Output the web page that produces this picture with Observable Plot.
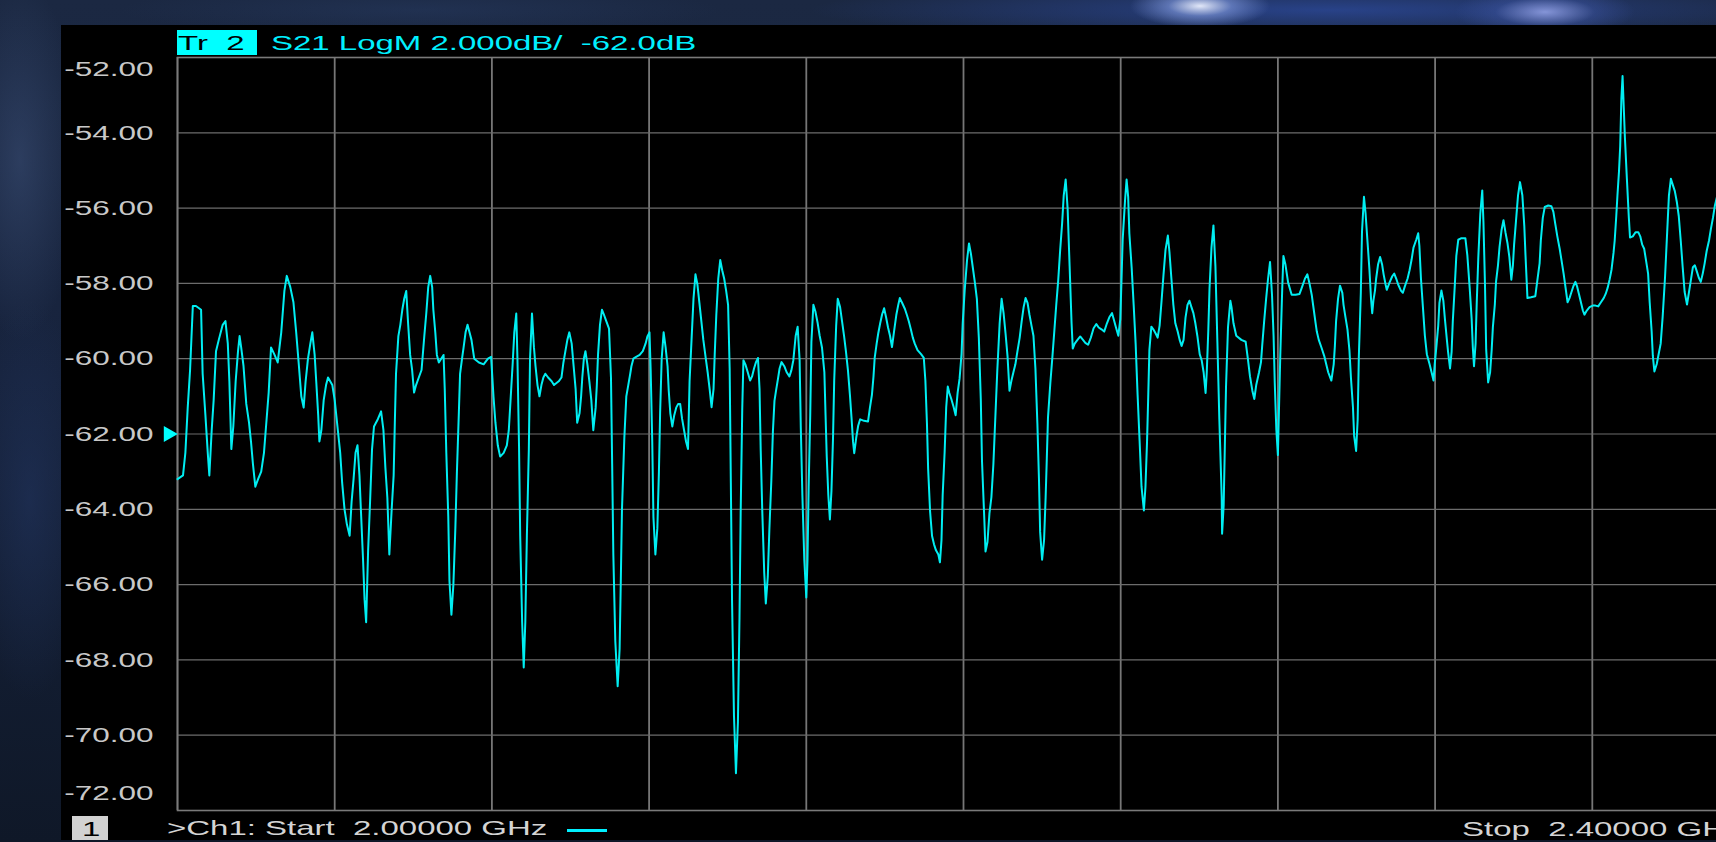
<!DOCTYPE html>
<html>
<head>
<meta charset="utf-8">
<script src="https://cdn.jsdelivr.net/npm/d3@7"></script>
<script src="https://cdn.jsdelivr.net/npm/@observablehq/plot@0.6"></script>
<style>
  html, body { margin: 0; padding: 0; width: 1716px; height: 842px; overflow: hidden; }
  body {
    position: relative;
    background-color: #131e34;
    background-image:
      radial-gradient(ellipse 70px 22px at 1200px 6px, rgba(235,240,255,0.95), rgba(140,165,235,0.55) 45%, rgba(60,90,170,0) 100%),
      radial-gradient(ellipse 90px 26px at 1545px 12px, rgba(150,165,235,0.85), rgba(70,95,180,0.35) 55%, rgba(40,60,130,0) 100%),
      radial-gradient(ellipse 520px 30px at 1330px 10px, rgba(45,75,160,0.75), rgba(30,50,110,0) 100%),
      radial-gradient(ellipse 300px 26px at 420px 10px, rgba(40,60,100,0.45), rgba(30,45,80,0) 100%),
      radial-gradient(ellipse 60px 180px at 20px 160px, rgba(60,80,120,0.55), rgba(40,55,90,0) 100%),
      radial-gradient(ellipse 60px 200px at 30px 500px, rgba(35,55,100,0.5), rgba(30,45,80,0) 100%),
      linear-gradient(to bottom, #1b2842 0%, #17233d 45%, #0f1828 100%);
    font-family: "Liberation Sans", Arial, sans-serif;
  }
  #panel { position: absolute; left: 61px; top: 25px; width: 1655px; height: 815px; background: #000; overflow: hidden; }
  .t { position: absolute; font-size: 21px; line-height: 21px; white-space: pre; transform: scaleX(1.57); transform-origin: 0 0; }
  #chart { position: absolute; left: 0; top: 0; z-index: 2; pointer-events: none; }
</style>
</head>
<body>
<div id="panel">
  <div style="position:absolute;left:116px;top:5px;width:80px;height:25px;background:#00ffff;"></div>
  <div class="t" style="left:117px;top:7px;color:#000;">Tr  2</div>
  <div class="t" style="left:210px;top:7px;color:#00f0ff;">S21 LogM 2.000dB/  -62.0dB</div>
  <div style="position:absolute;left:11px;top:791px;width:36px;height:25px;background:#d2d2d2;"></div>
  <div class="t" style="left:21px;top:793px;color:#000;">1</div>
  <div class="t" style="left:106px;top:792px;color:#d4d4d4;">&gt;Ch1: Start  2.00000 GHz</div>
  <div style="position:absolute;left:506px;top:804px;width:40px;height:2.5px;background:#00f0ff;"></div>
  <div class="t" style="left:1401px;top:793px;color:#d4d4d4;">Stop  2.40000 GHz</div>
</div>
<div id="chart"></div>
<script>
// Sweep: 2.00000 GHz to 2.40000 GHz, S21 LogM, 2 dB/div, ref -62 dB
const startMHz = 2000;
const stopMHz = 2400;
const freqGrid = [2000, 2040, 2080, 2120, 2160, 2200, 2240, 2280, 2320, 2360, 2400];
const dbTicks = [-52, -54, -56, -58, -60, -62, -64, -66, -68, -70, -72];
const refLevel = -62;

// [frequency MHz, S21 dB]
const s21Trace = [
[2000.0,-63.2],[2001.4,-63.1],[2002.0,-62.5],[2002.6,-61.3],[2003.2,-60.3],[2003.9,-58.6],[2004.7,-58.6],[2006.0,-58.7],[2006.4,-60.4],[2007.1,-61.5],
[2007.7,-62.5],[2008.1,-63.1],[2008.7,-61.9],[2009.2,-61.1],[2009.8,-59.8],[2010.5,-59.5],[2011.5,-59.1],[2012.2,-59.0],[2012.8,-59.6],[2013.2,-60.6],
[2013.7,-62.4],[2014.2,-61.8],[2014.8,-60.6],[2015.4,-59.8],[2015.8,-59.4],[2016.2,-59.7],[2016.8,-60.2],[2017.5,-61.2],[2018.2,-61.7],[2018.7,-62.2],
[2019.2,-62.8],[2019.8,-63.4],[2020.5,-63.2],[2021.3,-63.0],[2022.0,-62.5],[2022.6,-61.7],[2023.2,-60.9],[2023.8,-59.7],[2024.7,-59.9],[2025.5,-60.1],
[2026.4,-59.3],[2027.2,-58.2],[2027.8,-57.8],[2028.7,-58.1],[2029.5,-58.5],[2030.2,-59.3],[2030.9,-60.2],[2031.5,-61.0],[2032.1,-61.3],[2032.6,-60.6],
[2033.2,-60.0],[2033.8,-59.6],[2034.3,-59.3],[2034.9,-59.9],[2035.3,-60.6],[2035.8,-61.5],[2036.1,-62.2],[2036.6,-61.9],[2037.2,-61.1],[2037.8,-60.7],
[2038.3,-60.5],[2039.4,-60.7],[2040.0,-61.1],[2040.8,-61.9],[2041.4,-62.5],[2041.9,-63.3],[2042.5,-64.0],[2043.1,-64.4],[2043.8,-64.7],[2044.3,-63.8],
[2044.8,-63.2],[2045.3,-62.5],[2045.8,-62.3],[2046.3,-63.1],[2046.7,-64.1],[2047.2,-65.3],[2047.6,-66.4],[2048.0,-67.0],[2048.5,-65.1],[2049.0,-63.8],
[2049.5,-62.4],[2050.0,-61.8],[2051.0,-61.6],[2051.8,-61.4],[2052.4,-61.9],[2052.9,-62.9],[2053.4,-63.7],[2053.9,-65.2],[2054.5,-64.0],[2055.0,-63.1],
[2055.3,-61.7],[2055.6,-60.4],[2056.2,-59.4],[2056.7,-59.1],[2057.2,-58.7],[2057.7,-58.4],[2058.2,-58.2],[2058.7,-59.1],[2059.2,-59.9],[2059.7,-60.3],
[2060.2,-60.9],[2060.7,-60.7],[2061.4,-60.5],[2062.1,-60.3],[2062.8,-59.4],[2063.3,-58.8],[2063.8,-58.1],[2064.3,-57.8],
[2064.8,-58.1],[2065.1,-58.7],[2065.6,-59.3],[2066.0,-59.9],[2066.5,-60.1],[2067.1,-60.0],[2067.7,-59.9],[2068.0,-60.8],[2068.4,-62.5],[2068.9,-64.2],
[2069.2,-65.9],[2069.7,-66.8],[2070.2,-66.0],[2070.7,-64.5],[2071.1,-63.0],[2071.6,-61.4],[2071.9,-60.4],[2072.4,-60.0],[2072.8,-59.7],[2073.3,-59.3],
[2073.8,-59.1],[2074.3,-59.3],[2074.8,-59.5],[2075.5,-60.0],[2076.7,-60.1],[2077.9,-60.15],[2079.0,-60.0],[2079.8,-59.95],[2080.4,-61.0],[2080.9,-61.7],
[2081.5,-62.3],[2082.1,-62.6],[2083.0,-62.5],[2083.8,-62.3],[2084.3,-61.9],[2084.8,-61.0],[2085.3,-60.1],[2085.7,-59.3],[2086.2,-58.8],[2086.5,-60.0],
[2086.9,-62.3],[2087.2,-64.7],[2087.7,-67.0],[2088.1,-68.2],[2088.5,-67.0],[2088.9,-64.7],[2089.4,-62.4],[2089.7,-60.0],[2090.2,-58.8],[2090.7,-59.7],
[2091.1,-60.2],[2091.6,-60.7],[2092.1,-61.0],[2092.6,-60.7],[2093.1,-60.5],[2093.6,-60.4],[2094.3,-60.5],[2095.2,-60.6],[2095.8,-60.7],[2097.0,-60.6],
[2097.7,-60.5],[2098.2,-60.1],[2098.7,-59.8],[2099.2,-59.5],[2099.7,-59.3],[2100.3,-59.6],[2100.8,-60.2],[2101.3,-60.8],[2101.7,-61.7],[2102.3,-61.45],
[2102.7,-61.0],[2103.0,-60.5],[2103.4,-60.0],[2103.8,-59.8],[2104.3,-60.15],[2104.8,-60.6],[2105.3,-61.1],[2105.8,-61.9],[2106.4,-61.3],[2106.7,-60.7],
[2107.0,-59.9],[2107.5,-59.1],[2108.0,-58.7],[2108.4,-58.8],[2109.1,-59.0],[2109.8,-59.2],[2110.3,-60.5],[2110.6,-62.8],[2110.9,-65.2],[2111.4,-67.5],
[2112.0,-68.7],[2112.5,-67.7],[2112.8,-65.9],[2113.1,-64.0],[2113.7,-62.1],[2114.2,-61.0],[2114.7,-60.7],[2115.2,-60.4],[2115.5,-60.2],[2116.0,-60.0],
[2116.7,-59.95],[2117.6,-59.9],[2118.4,-59.8],[2119.1,-59.6],[2119.6,-59.4],[2120.1,-59.3],[2120.4,-60.3],[2120.8,-62.2],[2121.1,-64.2],[2121.6,-65.2],
[2122.1,-64.5],[2122.5,-63.0],[2122.8,-61.45],[2123.2,-60.0],[2123.7,-59.3],[2124.2,-59.7],[2124.7,-60.2],[2125.0,-60.85],[2125.4,-61.45],[2125.9,-61.8],
[2126.4,-61.5],[2126.9,-61.3],[2127.4,-61.2],[2127.9,-61.2],[2128.4,-61.6],[2128.9,-61.9],[2129.4,-62.2],[2129.9,-62.4],[2130.3,-60.6],[2130.8,-59.5],
[2131.3,-58.4],
[2131.8,-57.76],[2132.3,-58.03],[2132.8,-58.52],[2133.3,-59.01],[2133.8,-59.50],[2134.4,-59.98],[2134.9,-60.36],[2135.4,-60.80],[2135.9,-61.29],[2136.4,-60.80],
[2136.7,-59.88],[2137.1,-58.84],[2137.6,-57.87],[2138.1,-57.38],[2138.6,-57.65],[2139.1,-57.87],[2139.6,-58.19],[2140.1,-58.57],[2140.5,-60.26],[2140.8,-63.30],
[2141.1,-66.39],[2141.6,-69.49],[2142.1,-71.01],[2142.6,-69.65],[2143.0,-66.88],[2143.3,-64.11],[2143.7,-61.34],[2144.0,-60.04],[2144.5,-60.15],[2145.1,-60.36],
[2145.7,-60.58],[2146.2,-60.47],[2146.7,-60.26],[2147.2,-60.09],[2147.7,-59.98],[2148.1,-60.80],[2148.4,-62.43],[2148.8,-64.06],[2149.3,-65.69],[2149.7,-66.50],
[2150.2,-65.79],[2150.6,-64.55],[2151.1,-63.24],[2151.5,-61.94],[2151.9,-61.12],[2152.3,-60.85],[2152.8,-60.53],[2153.2,-60.26],[2153.7,-60.09],[2154.4,-60.20],
[2155.0,-60.36],[2155.7,-60.47],[2156.2,-60.31],[2156.7,-60.04],[2157.3,-59.39],[2157.8,-59.15],[2158.3,-60.04],[2158.6,-61.83],[2159.0,-63.62],[2159.5,-65.36],
[2160.0,-66.34],[2160.3,-65.36],[2160.6,-63.40],[2161.0,-61.50],[2161.3,-59.55],[2161.8,-58.57],[2162.3,-58.74],[2162.9,-59.06],[2163.4,-59.39],[2164.0,-59.71],
[2164.6,-60.36],[2164.9,-61.50],[2165.2,-62.59],[2165.6,-63.62],[2166.0,-64.27],[2166.4,-63.51],[2166.8,-62.10],[2167.1,-60.58],[2167.6,-59.12],[2168.0,-58.41],
[2168.6,-58.63],[2169.1,-59.01],[2169.6,-59.39],[2170.1,-59.82],[2170.6,-60.31],[2171.1,-60.96],[2171.5,-61.56],[2171.9,-62.21],[2172.2,-62.51],[2172.7,-62.10],
[2173.2,-61.78],[2173.7,-61.61],[2174.7,-61.65],[2175.7,-61.67],[2176.2,-61.29],[2176.7,-60.96],[2177.1,-60.47],[2177.4,-59.98],[2177.9,-59.60],[2178.3,-59.33],
[2178.8,-59.06],[2179.3,-58.82],[2179.8,-58.66],[2180.3,-58.90],[2180.8,-59.17],[2181.3,-59.39],[2181.8,-59.69],[2182.4,-59.22],[2182.9,-58.84],[2183.4,-58.57],
[2183.8,-58.39],[2184.4,-58.52],[2185.1,-58.68],[2185.6,-58.84],[2186.1,-59.01],[2186.6,-59.22],[2187.1,-59.44],[2187.6,-59.60],[2188.3,-59.77],[2189.2,-59.88],
[2189.9,-59.98],[2190.3,-60.58],[2190.7,-61.72],[2191.0,-62.92],[2191.5,-64.06],[2192.0,-64.71],[2192.5,-64.93],[2193.0,-65.09],[2193.6,-65.20],[2194.0,-65.41],
[2194.4,-64.82],[2194.7,-63.62],[2195.2,-62.48],[2195.6,-61.29],[2196.0,-60.74],[2196.4,-60.91],
[2196.9,-61.07],[2197.5,-61.29],[2198.0,-61.50],[2198.5,-60.91],[2199.0,-60.53],[2199.5,-59.88],[2199.8,-59.06],[2200.3,-58.19],[2200.9,-57.38],[2201.4,-56.94],
[2201.9,-57.22],[2202.4,-57.60],[2202.9,-57.98],[2203.4,-58.41],[2203.9,-59.44],[2204.4,-61.07],[2204.7,-62.70],[2205.3,-64.27],[2205.6,-65.12],[2206.1,-64.87],
[2206.6,-64.11],[2207.1,-63.68],[2207.6,-62.81],[2208.1,-61.56],[2208.6,-60.31],[2209.2,-59.06],[2209.7,-58.41],[2210.2,-58.79],[2210.7,-59.33],[2211.2,-59.93],
[2211.7,-60.85],[2212.2,-60.58],[2212.7,-60.36],[2213.2,-60.15],[2213.7,-59.82],[2214.3,-59.44],[2214.8,-59.01],[2215.3,-58.63],[2215.8,-58.39],[2216.3,-58.52],
[2216.8,-58.84],[2217.3,-59.12],[2217.8,-59.39],[2218.3,-60.26],[2218.8,-61.72],[2219.2,-63.19],[2219.5,-64.60],[2220.0,-65.34],[2220.5,-64.82],[2220.9,-63.68],
[2221.2,-62.64],[2221.5,-61.56],[2222.1,-60.64],[2222.6,-59.98],[2223.1,-59.28],[2223.6,-58.57],[2224.1,-57.92],[2224.6,-57.11],[2225.1,-56.40],[2225.5,-55.67],
[2226.0,-55.24],[2226.5,-56.02],[2227.0,-57.54],[2227.5,-59.06],[2227.8,-59.73],[2228.3,-59.60],[2229.0,-59.50],[2229.7,-59.41],[2230.4,-59.50],[2231.0,-59.58],
[2231.7,-59.63],[2232.4,-59.44],[2233.1,-59.19],[2233.8,-59.08],[2234.4,-59.17],[2235.1,-59.22],[2235.8,-59.28],[2236.5,-59.06],[2237.1,-58.90],[2237.8,-58.79],
[2238.3,-58.98],[2238.8,-59.17],[2239.4,-59.39],[2239.9,-58.95],[2240.2,-57.92],[2240.5,-56.84],[2241.1,-55.80],[2241.5,-55.24],[2241.9,-55.70],[2242.2,-56.67],
[2242.8,-57.60],[2243.3,-58.57],[2243.8,-59.60],[2244.3,-60.96],[2244.8,-62.16],[2245.3,-63.40],[2245.9,-64.03],[2246.3,-63.40],[2246.7,-62.21],[2247.0,-61.02],
[2247.3,-59.77],[2247.8,-59.15],[2248.3,-59.22],[2248.9,-59.33],[2249.4,-59.44],[2249.9,-59.12],[2250.4,-58.46],[2250.9,-57.76],[2251.4,-57.11],[2252.0,-56.73],
[2252.4,-57.16],[2252.9,-57.87],[2253.4,-58.57],[2253.9,-59.06],[2254.5,-59.28],[2255.0,-59.50],[2255.5,-59.66],[2256.0,-59.50],[2256.5,-58.90],[2257.0,-58.57],
[2257.5,-58.46],[2258.0,-58.63],[2258.5,-58.79],[2259.0,-59.06],[2259.5,-59.39],[2260.1,-59.88],[2260.6,-60.04],[2261.1,-60.36],[2261.6,-60.91],[2261.9,-60.36],
[2262.3,-59.22],[2262.6,-58.14],[2263.1,-57.05],[2263.6,-56.46],
[2264.1,-57.54],[2264.6,-59.55],[2265.1,-61.61],[2265.7,-63.68],[2265.8,-64.65],[2266.2,-63.89],[2266.5,-62.32],[2266.8,-60.74],[2267.3,-59.17],[2267.9,-58.46],
[2268.2,-58.63],[2268.7,-59.06],[2269.4,-59.39],[2270.7,-59.50],[2271.8,-59.55],[2272.4,-60.04],[2272.9,-60.47],[2273.5,-60.85],[2274.0,-61.07],[2274.5,-60.69],
[2275.2,-60.36],[2275.7,-60.09],[2276.0,-59.66],[2276.5,-59.01],[2277.0,-58.41],[2277.5,-57.87],[2278.0,-57.43],[2278.5,-58.30],[2278.9,-59.39],[2279.2,-60.64],
[2279.6,-61.88],[2280.0,-62.56],[2280.2,-61.67],[2280.6,-59.93],[2281.1,-58.14],[2281.4,-57.27],[2281.9,-57.49],[2282.6,-57.98],[2283.5,-58.30],[2284.5,-58.30],
[2285.5,-58.28],[2286.2,-58.08],[2286.9,-57.87],[2287.5,-57.76],[2288.0,-57.98],[2288.6,-58.30],[2289.1,-58.68],[2289.6,-59.06],[2289.9,-59.28],[2290.4,-59.50],
[2291.1,-59.71],[2291.8,-59.93],[2292.3,-60.15],[2292.8,-60.36],[2293.6,-60.58],[2294.2,-60.15],[2294.5,-59.66],[2294.8,-59.01],[2295.3,-58.41],[2295.8,-58.06],
[2296.4,-58.25],[2296.7,-58.57],[2297.2,-58.90],[2297.7,-59.22],[2298.2,-59.77],[2298.6,-60.53],[2299.1,-61.29],[2299.4,-62.05],[2299.9,-62.45],[2300.3,-61.61],
[2300.6,-59.93],[2301.1,-58.25],[2301.4,-56.62],[2301.9,-55.70],[2302.3,-56.13],[2302.8,-56.89],[2303.3,-57.65],[2303.7,-58.41],[2304.0,-58.79],[2304.3,-58.46],
[2304.7,-58.19],[2305.0,-57.87],[2305.5,-57.49],[2306.0,-57.30],[2306.5,-57.49],[2306.9,-57.76],[2307.4,-58.03],[2307.7,-58.17],[2308.4,-57.98],[2309.1,-57.81],
[2309.6,-57.74],[2310.1,-57.87],[2310.6,-58.03],[2311.3,-58.19],[2311.8,-58.25],[2312.3,-58.08],[2313.0,-57.87],[2313.5,-57.65],[2314.0,-57.38],[2314.5,-57.05],
[2315.2,-56.84],[2315.7,-56.67],[2316.0,-57.00],[2316.4,-57.87],[2316.9,-58.63],[2317.4,-59.39],[2317.9,-59.88],[2318.6,-60.15],[2319.1,-60.36],[2319.6,-60.58],
[2319.9,-60.15],[2320.3,-59.71],[2320.8,-59.12],[2321.1,-58.52],[2321.6,-58.19],[2322.1,-58.46],[2322.5,-58.95],[2323.0,-59.50],[2323.3,-59.82],[2323.8,-60.26],
[2324.2,-59.82],[2324.5,-59.01],[2325.0,-58.08],[2325.4,-57.27],[2325.9,-56.84],[2326.7,-56.80],[2327.7,-56.80],
[2328.2,-57.25],[2328.8,-58.12],[2329.3,-58.94],[2329.6,-59.70],[2329.9,-60.20],[2330.3,-59.60],[2330.6,-58.50],[2331.0,-57.30],[2331.5,-56.15],[2332.0,-55.53],
[2332.3,-56.37],[2332.7,-58.07],[2333.0,-59.76],[2333.5,-60.63],[2334.0,-60.36],[2334.4,-59.76],[2334.7,-59.16],[2335.2,-58.56],[2335.5,-57.96],[2336.0,-57.52],
[2336.4,-57.03],[2336.9,-56.59],[2337.4,-56.32],[2337.9,-56.64],[2338.4,-56.92],[2338.9,-57.30],[2339.4,-57.90],[2339.8,-57.52],[2340.1,-56.97],[2340.6,-56.32],
[2341.1,-55.66],[2341.6,-55.31],[2342.2,-55.66],[2342.7,-56.48],[2343.0,-57.25],[2343.5,-58.39],[2344.4,-58.37],[2345.5,-58.34],[2346.1,-57.85],[2346.6,-57.46],
[2346.9,-56.86],[2347.4,-56.26],[2347.9,-55.97],[2348.8,-55.93],[2349.6,-55.95],[2350.1,-56.10],[2350.6,-56.43],[2351.1,-56.75],[2351.7,-57.08],[2352.2,-57.41],
[2352.7,-57.74],[2353.2,-58.12],[2353.7,-58.50],[2354.2,-58.39],[2354.7,-58.23],[2355.2,-58.07],[2355.7,-57.96],[2356.1,-58.07],[2356.6,-58.28],[2357.1,-58.50],
[2357.6,-58.72],[2358.0,-58.83],[2358.6,-58.72],[2359.3,-58.63],[2360.1,-58.59],[2360.8,-58.59],[2361.5,-58.61],[2362.2,-58.50],[2362.9,-58.39],[2363.4,-58.28],
[2363.9,-58.12],[2364.4,-57.90],[2364.9,-57.63],[2365.4,-57.19],[2365.7,-56.86],[2366.1,-56.21],[2366.4,-55.66],[2366.8,-55.01],[2367.1,-54.35],[2367.4,-53.09],
[2367.7,-52.49],[2367.9,-53.04],[2368.3,-54.13],[2368.8,-55.22],[2369.3,-56.26],[2369.6,-56.78],[2370.3,-56.75],[2371.0,-56.64],[2371.7,-56.64],[2372.2,-56.75],
[2372.7,-56.97],[2373.2,-57.08],[2373.7,-57.41],[2374.2,-57.74],[2374.6,-58.50],[2375.1,-59.27],[2375.4,-59.92],[2375.8,-60.34],[2376.4,-60.14],[2376.9,-59.87],
[2377.4,-59.60],[2377.9,-58.89],[2378.5,-57.85],[2379.0,-56.75],[2379.5,-55.66],[2380.0,-55.22],[2380.5,-55.39],[2381.0,-55.55],[2381.5,-55.83],[2382.0,-56.21],
[2382.5,-56.86],[2383.0,-57.57],[2383.5,-58.23],[2384.1,-58.56],[2384.6,-58.23],[2385.1,-57.90],[2385.6,-57.57],[2386.1,-57.52],[2386.6,-57.68],[2387.1,-57.85],
[2387.6,-57.96],[2388.1,-57.74],[2388.6,-57.46],[2389.1,-57.14],[2389.7,-56.86],[2390.2,-56.54],[2390.7,-56.26],[2391.2,-55.93],[2392.2,-55.5]
];

const trace = s21Trace.map(([f, db]) => ({f, db}));
const midTicks = dbTicks.filter(d => d !== -52 && d !== -72);
const fmt = d => d.toFixed(2);
const labelStyle = {frameAnchor: "left", dx: -24, textAnchor: "end", fill: "#c8c8c8", fontSize: 21};

const chart = Plot.plot({
  width: 1760,
  height: 842,
  marginLeft: 177,
  marginTop: 57,
  marginRight: 11,
  marginBottom: 32,
  x: {domain: [startMHz, stopMHz], axis: null},
  y: {domain: [-72, -52], axis: null},
  style: {background: "transparent", maxWidth: "none", overflow: "visible", fontFamily: "'Liberation Sans', Arial, sans-serif", fontSize: "21px"},
  marks: [
    Plot.gridX(freqGrid, {stroke: "#767676", strokeOpacity: 1, strokeWidth: 1.8}),
    Plot.gridY(dbTicks, {stroke: "#6c6c6c", strokeOpacity: 1, strokeWidth: 1.2}),
    Plot.frame({stroke: "#7a7a7a", strokeWidth: 1.6}),
    Plot.line(trace, {x: "f", y: "db", stroke: "#00eef2", strokeWidth: 2}),
    Plot.dot([refLevel], {y: d => d, frameAnchor: "left", symbol: "triangle", rotate: 90, r: 6, fill: "#00ffff", stroke: "none", dx: -9}),
    Plot.text(midTicks, {y: d => d, text: fmt, ...labelStyle}),
    Plot.text([-52], {y: d => d, text: fmt, ...labelStyle, dy: 12}),
    Plot.text([-72], {y: d => d, text: fmt, ...labelStyle, dy: -17})
  ]
});

// stretch tick labels horizontally like the instrument's display font
d3.select(chart).selectAll("text").each(function() {
  const tr = this.getAttribute("transform");
  if (tr) this.setAttribute("transform", tr + " scale(1.5,1)");
  else {
    const x = +this.getAttribute("x") || 0;
    this.setAttribute("transform", `translate(${x},0) scale(1.5,1) translate(${-x},0)`);
  }
});

document.getElementById("chart").appendChild(chart);
</script>
</body>
</html>
